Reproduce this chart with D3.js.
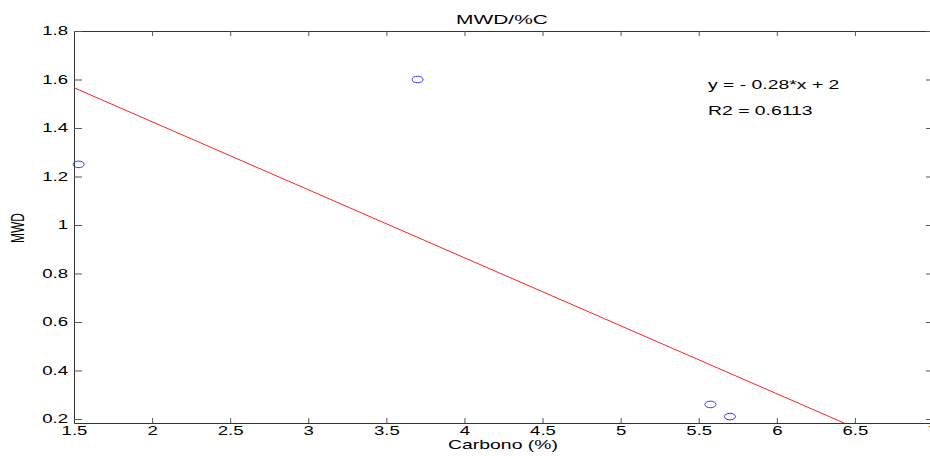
<!DOCTYPE html>
<html>
<head>
<meta charset="utf-8">
<script src="https://cdn.jsdelivr.net/npm/d3@7"></script>
<style>
    body { margin: 0; background: #fff; }
    text { font-family: "Liberation Sans", Arial, sans-serif; fill: #000; }
</style>
</head>
<body>
<script>
// scatter points
var carbono = [1.53, 3.70, 5.575, 5.70];
var mwd = [1.25, 1.60, 0.26, 0.21];

// fitted line end points (y = -0.28*x + 2)
var fit_x = [1.5, 6.43];
var fit_y = [1.566, 0.1835];

var x_ticks = [1.5, 2, 2.5, 3, 3.5, 4, 4.5, 5, 5.5, 6, 6.5, 7];
var y_ticks = [0.2, 0.4, 0.6, 0.8, 1, 1.2, 1.4, 1.6, 1.8];
var note_lines = ["y = - 0.28*x + 2", "R2 = 0.6113"];

var width = 930, height = 456;
// plot box edges ("top" is taken by window, so p_*)
var p_left = 74, p_right = 933, p_top = 31, p_bottom = 423;
var sx = 1.55;  // the original image is stretched sideways, so text is too

var svg = d3.select("body").append("svg")
    .attr("width", width)
    .attr("height", height);

var x = d3.scaleLinear().domain([1.5, 7]).range([p_left, p_right]);
var y = d3.scaleLinear().domain([0.1835, 1.8]).range([p_bottom, p_top]);

svg.append("defs").append("clipPath").attr("id", "plot")
    .append("rect")
    .attr("x", p_left).attr("y", p_top)
    .attr("width", p_right - p_left).attr("height", p_bottom - p_top);

// bottom axis
var xb = svg.append("g")
    .attr("transform", "translate(0," + p_bottom + ")")
    .call(d3.axisBottom(x).tickValues(x_ticks).tickSizeInner(-5).tickSizeOuter(0)
        .tickFormat(function (d) { return d; }));
xb.selectAll("text")
    .attr("y", 3).attr("dy", "0.71em")
    .attr("transform", "scale(" + sx + ",1)")
    .style("font-size", "12px");

// top axis (box, ticks only)
svg.append("g")
    .attr("transform", "translate(0," + p_top + ")")
    .call(d3.axisTop(x).tickValues(x_ticks).tickSizeInner(-5).tickSizeOuter(0).tickFormat(""));

// left axis
var yl = svg.append("g")
    .attr("transform", "translate(" + p_left + ",0)")
    .call(d3.axisLeft(y).tickValues(y_ticks).tickSizeInner(-8).tickSizeOuter(0)
        .tickFormat(function (d) { return d; }));
yl.selectAll("text")
    .attr("x", -6 / sx)
    .attr("transform", "scale(" + sx + ",1)")
    .style("font-size", "12px");

// right axis
svg.append("g")
    .attr("transform", "translate(" + p_right + ",0)")
    .call(d3.axisRight(y).tickValues(y_ticks).tickSizeInner(-7).tickSizeOuter(0).tickFormat(""));

svg.selectAll(".domain").attr("stroke", "#333");
svg.selectAll(".tick line").attr("stroke", "#555");

// fitted line
var pts = fit_x.map(function (d, i) { return [d, fit_y[i]]; });
svg.append("path")
    .datum(pts)
    .attr("clip-path", "url(#plot)")
    .attr("fill", "none")
    .attr("stroke", "#f22")
    .attr("stroke-width", 1)
    .attr("d", d3.line().x(function (d) { return x(d[0]); }).y(function (d) { return y(d[1]); }));

// markers
svg.selectAll("ellipse.pt")
    .data(carbono)
    .enter()
    .append("ellipse")
    .attr("class", "pt")
    .attr("cx", function (d) { return x(d); })
    .attr("cy", function (d, i) { return y(mwd[i]); })
    .attr("rx", 5.5)
    .attr("ry", 3.3)
    .attr("fill", "none")
    .attr("stroke", "#33f")
    .attr("stroke-width", 1);

// text helper: place at (px,py) and stretch sideways
function label(txt, px, py, size, anchor, rot) {
    var t = "translate(" + px + "," + py + ") scale(" + sx + ",1)";
    if (rot) t += " rotate(" + rot + ")";
    return svg.append("text")
        .attr("transform", t)
        .attr("text-anchor", anchor)
        .style("font-size", size + "px")
        .text(txt);
}

label("MWD/%C", 502, 24, 13.5, "middle");
label("Carbono (%)", 503, 449, 12.5, "middle");
label("MWD", 24, 228, 12, "middle", -90);

// regression note
note_lines.forEach(function (d, i) {
    label(d, 708, 89 + i * 26, 12.5, "start");
});
</script>
</body>
</html>
